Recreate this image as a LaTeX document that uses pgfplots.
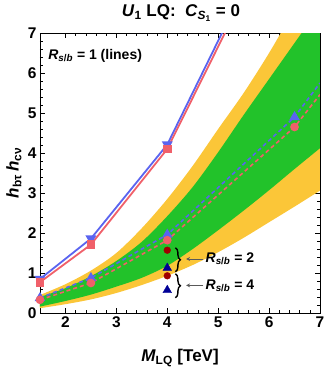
\documentclass[border=0pt]{standalone}
\usepackage{fontspec}
\setmainfont{Liberation Sans}
\usepackage{pgfplots}
\pgfplotsset{compat=1.18}
\usepgfplotslibrary{fillbetween}
\usetikzlibrary{decorations.pathreplacing,arrows.meta}

\definecolor{cyel}{RGB}{251,198,56}
\definecolor{cgrn}{RGB}{34,194,42}
\definecolor{cblue}{RGB}{90,100,240}
\definecolor{cred}{RGB}{240,96,106}
\definecolor{dred}{RGB}{160,0,0}
\definecolor{dblue}{RGB}{0,0,150}

\begin{document}
\begin{tikzpicture}
\begin{axis}[
  at={(0,0)}, anchor=south west,
  scale only axis, width=280pt, height=280pt,
  xmin=1.5, xmax=7, ymin=0, ymax=7,
  xtick={2,...,7}, ytick={0,...,7},
  minor x tick num=4, minor y tick num=4,
  tick align=inside,
  xtick pos=both, ytick pos=both,
  major tick length=5pt, minor tick length=3pt,
  tick style={black, line width=0.6pt},
  axis line style={line width=0.9pt},
  /pgf/number format/assume math mode=true,
  ticklabel style={font=\fontsize{15.5}{16}\selectfont\bfseries},
  xlabel={\textbf{\textit{M}\textsubscript{LQ} [TeV]}},
  ylabel={\textbf{\textit{h}\textsubscript{bτ}\,\textit{h}\textsubscript{cν}}},
  xlabel style={at={(axis description cs:0.5,-0.16)}, anchor=center, yshift=0pt, font=\fontsize{17}{18}\selectfont},
  ylabel style={at={(axis description cs:-0.093,0.5)}, anchor=center, font=\fontsize{17}{18}\selectfont},
]
% band boundaries
\addplot[name path=yu, draw=none, smooth] coordinates {(1.5,0.45)(2,0.72)(2.5,1.06)(3,1.5)(3.5,2.12)(4,2.85)(4.5,3.68)(5,4.6)(5.5,5.5)(6,6.5)(6.5,7.6)(7,8.7)};
\addplot[name path=yl, draw=none, smooth] coordinates {(1.5,0.12)(2,0.22)(2.5,0.34)(3,0.5)(3.5,0.7)(4,0.93)(4.5,1.2)(5,1.52)(5.5,1.88)(6,2.27)(6.5,2.66)(7,3.06)};
\addplot[name path=gu, draw=none, smooth] coordinates {(1.5,0.40)(2,0.62)(2.5,0.92)(3,1.3)(3.5,1.78)(4,2.42)(4.5,3.15)(5,4.02)(5.5,4.95)(6,5.85)(6.5,6.75)(7,7.65)};
\addplot[name path=gl, draw=none, smooth] coordinates {(1.5,0.16)(2,0.3)(2.5,0.46)(3,0.66)(3.5,0.88)(4,1.18)(4.5,1.6)(5,2.07)(5.5,2.56)(6,3.07)(6.5,3.6)(7,4.12)};
\addplot[cyel] fill between[of=yu and yl];
\addplot[cgrn] fill between[of=gu and gl];

% R=1 solid lines
\addplot[cblue, line width=1.8pt, mark=triangle*, mark size=4.5pt, mark options={solid, rotate=180}, mark indices={1,2,3}] coordinates {(1.5,0.85)(2.5,1.86)(4,4.21)(6.5,10.7)};
\addplot[cred, line width=1.8pt, mark=square*, mark size=3.5pt, mark options={solid}, mark indices={1,2,3}] coordinates {(1.5,0.77)(2.5,1.71)(4,4.1)(6.5,10.5)};
% dashed lines
\addplot[cblue, line width=1.6pt, dash pattern=on 4pt off 3pt, mark=triangle*, mark size=4.5pt, mark options={solid}, mark indices={1,2,3,4}] coordinates {(1.5,0.375)(2.5,0.875)(4,1.96)(6.5,4.9)(7,5.75)};
\addplot[cred, line width=1.6pt, dash pattern=on 4pt off 3pt, mark=*, mark size=3.5pt, mark options={solid}, mark indices={1,2,3,4}] coordinates {(1.5,0.33)(2.5,0.75)(4,1.82)(6.5,4.65)(7,5.46)};
% isolated points
\addplot[only marks, mark=*, mark size=3.4pt, color=dred] coordinates {(4,1.57)(4,0.93)};
\addplot[only marks, mark=triangle*, mark size=5pt, color=dblue] coordinates {(4,1.125)(4,0.57)};

% annotations
\draw[decorate, decoration={brace, amplitude=5pt}, line width=1.4pt] (axis cs:4.16,1.63) -- (axis cs:4.16,1.03);
\draw[decorate, decoration={brace, amplitude=5pt}, line width=1.4pt] (axis cs:4.16,0.98) -- (axis cs:4.16,0.38);
\draw[-{Stealth[length=4pt,width=4pt]}, line width=0.8pt, black!65] (axis cs:4.71,1.35) -- (axis cs:4.37,1.35);
\draw[-{Stealth[length=4pt,width=4pt]}, line width=0.8pt, black!65] (axis cs:4.71,0.69) -- (axis cs:4.37,0.69);
\node[anchor=west, font=\fontsize{14}{15}\selectfont\bfseries, inner sep=0pt] at (axis cs:4.75,1.35) {\textit{R}\textsubscript{\textit{s}/\textit{b}} = 2};
\node[anchor=west, font=\fontsize{14}{15}\selectfont\bfseries, inner sep=0pt] at (axis cs:4.75,0.69) {\textit{R}\textsubscript{\textit{s}/\textit{b}} = 4};
\node[anchor=west, font=\fontsize{14}{15}\selectfont\bfseries, inner sep=0pt] at (axis cs:1.66,6.42) {\textit{R}\textsubscript{\textit{s}/\textit{b}} = 1 (lines)};
\end{axis}
\node[anchor=center, font=\fontsize{17}{18}\selectfont\bfseries] at (141pt,300pt) {\textit{U}\textsubscript{1} LQ:\ \ \textit{C}\textsubscript{\textit{S}\textsubscript{1}} = 0};
\pgfresetboundingbox
\path[use as bounding box] (-40pt,-55pt) rectangle (286pt,313pt);
\end{tikzpicture}
\end{document}
